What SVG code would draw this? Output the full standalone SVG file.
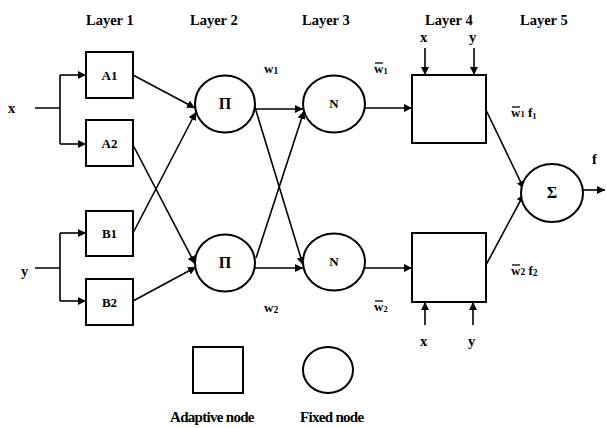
<svg xmlns="http://www.w3.org/2000/svg" width="606" height="428" viewBox="0 0 606 428">
<defs>
<marker id="ah" viewBox="0 0 10 10" refX="10" refY="5" markerWidth="8" markerHeight="8" markerUnits="userSpaceOnUse" orient="auto">
<path d="M0,0 L10,5 L0,10 z" fill="#000"/>
</marker>
<style>
text{font-family:"Liberation Serif","Times New Roman",serif;font-weight:bold;fill:#000}
.lbl{font-size:14.5px}
.nd{font-size:13px;text-anchor:middle}
.big{font-size:16px}
.sh{fill:#fff;stroke:#000;stroke-width:2}
.c{fill:none;stroke:#000;stroke-width:1.6}
.a{marker-end:url(#ah)}
.lg{font-size:15px;letter-spacing:-0.7px}
.w{font-size:13px}
</style>
</defs>
<rect width="606" height="428" fill="#fff"/>
<g id="headers" class="lbl">
<text x="86" y="25">Layer 1</text>
<text x="190" y="25">Layer 2</text>
<text x="302" y="25">Layer 3</text>
<text x="425" y="25">Layer 4</text>
<text x="520" y="25">Layer 5</text>
</g>
<g id="connectors">
<path class="c" d="M35,108 H60 M60,75 V144 M35,268 H60 M60,233 V301"/>
<path class="c a" d="M60,75 H86"/>
<path class="c a" d="M60,144 H86"/>
<path class="c a" d="M60,233 H86"/>
<path class="c a" d="M60,301 H86"/>
<path class="c a" d="M133,75 L195,108"/>
<path class="c a" d="M133,145 L195,264"/>
<path class="c a" d="M133,233 L196,112"/>
<path class="c a" d="M133,301 L196,267"/>
<path class="c a" d="M255,109 H303"/>
<path class="c a" d="M254,104 L303,265"/>
<path class="c a" d="M256,258 L304,111"/>
<path class="c a" d="M255,268 H303"/>
<path class="c a" d="M365,108 H412"/>
<path class="c a" d="M365,268 H412"/>
<path class="c a" d="M425,48 V75"/>
<path class="c a" d="M474,48 V75"/>
<path class="c a" d="M425,325 V302"/>
<path class="c a" d="M473,325 V302"/>
<path class="c a" d="M486,110 L524,189"/>
<path class="c a" d="M486,265 L524,194"/>
<path class="c a" d="M583,190 H605"/>
</g>
<g id="n-A1"><rect class="sh" x="86" y="52" width="47" height="46"/><text class="nd" x="109.5" y="80">A1</text></g>
<g id="n-A2"><rect class="sh" x="86" y="120" width="47" height="46"/><text class="nd" x="109.5" y="148">A2</text></g>
<g id="n-B1"><rect class="sh" x="86" y="211" width="47" height="45"/><text class="nd" x="109.5" y="238">B1</text></g>
<g id="n-B2"><rect class="sh" x="86" y="279" width="47" height="46"/><text class="nd" x="109.5" y="307">B2</text></g>
<g id="n-P1"><ellipse class="sh" cx="225" cy="104" rx="30" ry="28.5"/><text class="nd big" x="225" y="109">Π</text></g>
<g id="n-P2"><ellipse class="sh" cx="225" cy="263" rx="30" ry="28.5"/><text class="nd big" x="225" y="268">Π</text></g>
<g id="n-N1"><ellipse class="sh" cx="334" cy="104" rx="31" ry="28.5"/><text class="nd" x="334" y="108">N</text></g>
<g id="n-N2"><ellipse class="sh" cx="334" cy="262" rx="31" ry="28.5"/><text class="nd" x="334" y="266">N</text></g>
<g id="n-L4a"><rect class="sh" x="412" y="75" width="74" height="68"/></g>
<g id="n-L4b"><rect class="sh" x="412" y="233" width="74" height="69"/></g>
<g id="n-S"><ellipse class="sh" cx="552" cy="193" rx="31" ry="29"/><text class="nd big" x="552" y="198">Σ</text></g>
<g id="legend-adaptive"><rect class="sh" x="193" y="347" width="50" height="46"/><text class="lg" x="170" y="422">Adaptive node</text></g>
<g id="legend-fixed"><ellipse class="sh" cx="328" cy="370" rx="25" ry="23"/><text class="lg" x="300" y="422">Fixed node</text></g>
<g id="labels" class="lbl">
<text x="8" y="113">x</text>
<text x="21" y="276">y</text>
<text x="420" y="42">x</text>
<text x="469" y="42">y</text>
<text x="420" y="346">x</text>
<text x="468" y="346">y</text>
<text x="592" y="164">f</text>
<text class="w" x="264" y="73">w<tspan font-size="9.5" dy="1">1</tspan></text>
<text class="w" x="264" y="312">w<tspan font-size="9.5" dy="1">2</tspan></text>
<text class="w" x="374" y="73">w<tspan font-size="8.5" dy="1">1</tspan></text>
<path d="M375,63 H383" stroke="#000" stroke-width="1.3"/>
<text class="w" x="374" y="311">w<tspan font-size="8.5" dy="1">2</tspan></text>
<path d="M375,301 H383" stroke="#000" stroke-width="1.3"/>
<text class="w" x="511" y="117">w<tspan font-size="8.5">1</tspan> f<tspan font-size="8.5" dy="2">1</tspan></text>
<path d="M512,107 H520" stroke="#000" stroke-width="1.3"/>
<text class="w" x="511" y="275">w<tspan font-size="9.5">2</tspan> f<tspan font-size="9.5" dy="1">2</tspan></text>
<path d="M512,265 H520" stroke="#000" stroke-width="1.3"/>
</g>
</svg>
